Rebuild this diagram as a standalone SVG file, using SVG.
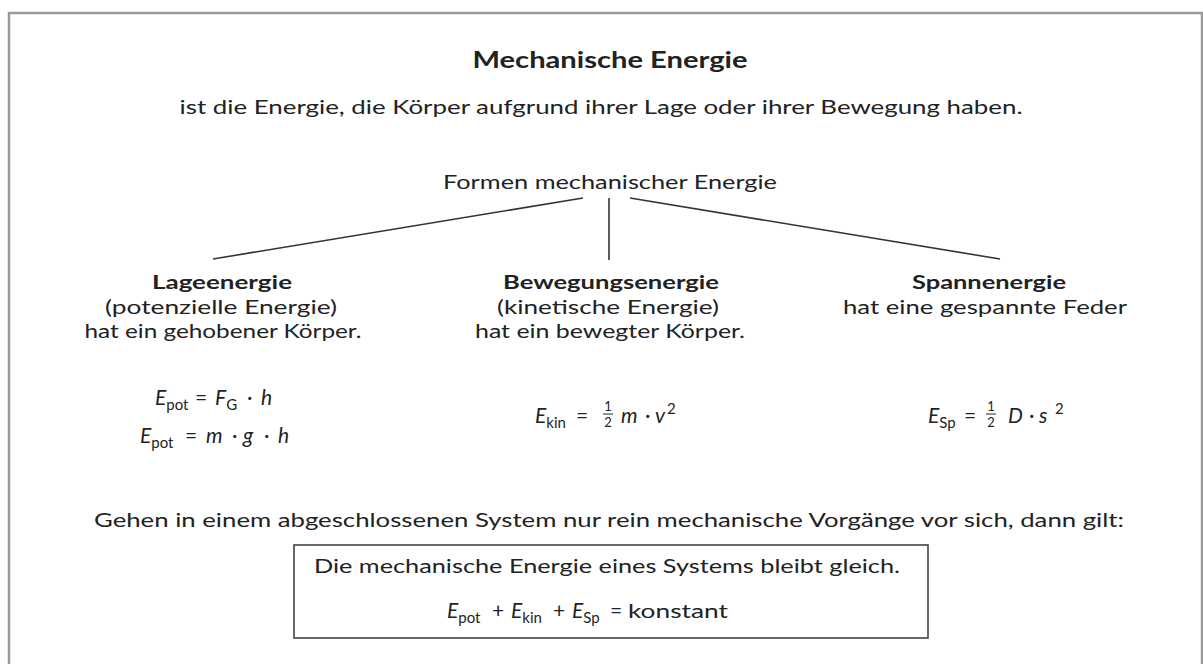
<svg xmlns="http://www.w3.org/2000/svg" width="1203" height="664" viewBox="0 0 1203 664">
<style>
text{font-family:Lato,"Open Sans","Liberation Sans",sans-serif;fill:#222;}
.t{font-size:19.5px;text-anchor:middle;}
.h{font-size:23px;font-weight:bold;text-anchor:middle;}
.b{font-weight:bold;}
.f{font-size:21px;}
.i{font-style:italic;}
.s{font-size:15px;}
.k{font-size:19.5px;}
.fr{font-size:13px;text-anchor:middle;}
.ln{stroke:#333;stroke-width:1.6;fill:none;}
.bar{stroke:#222;stroke-width:1;}
</style>
<rect x="0" y="0" width="1203" height="664" fill="#fff"/>
<rect id="frame" x="9" y="13" width="1193" height="660" fill="none" stroke="#9a9a9a" stroke-width="2.5"/>
<g id="title"><text class="h" x="610" y="68" textLength="275" lengthAdjust="spacingAndGlyphs">Mechanische Energie</text></g>
<g id="subtitle"><text class="t" x="601" y="114" textLength="843" lengthAdjust="spacingAndGlyphs">ist die Energie, die Körper aufgrund ihrer Lage oder ihrer Bewegung haben.</text></g>
<g id="root"><text class="t" x="610" y="189" textLength="334" lengthAdjust="spacingAndGlyphs">Formen mechanischer Energie</text></g>
<g id="connectors">
<line class="ln" x1="583" y1="198" x2="213" y2="259"/>
<line class="ln" x1="609" y1="198" x2="609" y2="260"/>
<line class="ln" x1="630" y1="198" x2="1000" y2="259"/>
</g>
<g id="lage">
<text class="t b" x="222" y="289" textLength="140" lengthAdjust="spacingAndGlyphs">Lageenergie</text>
<text class="t" x="221" y="314" textLength="232" lengthAdjust="spacingAndGlyphs">(potenzielle Energie)</text>
<text class="t" x="223" y="338" textLength="277" lengthAdjust="spacingAndGlyphs">hat ein gehobener Körper.</text>
<text class="f"><tspan class="i" x="155" y="405">E</tspan><tspan class="s" dy="5">pot</tspan><tspan x="195" y="405">=</tspan><tspan class="i" x="215" y="405">F</tspan><tspan class="s" dy="5">G</tspan><tspan x="247" y="405">·</tspan><tspan class="i" x="261" y="405">h</tspan></text>
<text class="f"><tspan class="i" x="140" y="443">E</tspan><tspan class="s" dy="5">pot</tspan><tspan x="185" y="443">=</tspan><tspan class="i" x="206" y="443">m</tspan><tspan x="232" y="443">·</tspan><tspan class="i" x="243" y="443">g</tspan><tspan x="264" y="443">·</tspan><tspan class="i" x="278" y="443">h</tspan></text>
</g>
<g id="bewegung">
<text class="t b" x="611" y="289" textLength="216" lengthAdjust="spacingAndGlyphs">Bewegungsenergie</text>
<text class="t" x="608" y="314" textLength="222" lengthAdjust="spacingAndGlyphs">(kinetische Energie)</text>
<text class="t" x="610" y="338" textLength="270" lengthAdjust="spacingAndGlyphs">hat ein bewegter Körper.</text>
<text class="f"><tspan class="i" x="535" y="423">E</tspan><tspan class="s" dy="5">kin</tspan><tspan x="576" y="423">=</tspan><tspan class="i" x="621" y="423">m</tspan><tspan x="645" y="423">·</tspan><tspan class="i" x="655" y="423">v</tspan><tspan class="s" x="667" y="414">2</tspan></text>
<text class="fr" x="608" y="411">1</text>
<line class="bar" x1="603" y1="414" x2="613" y2="414"/>
<text class="fr" x="608" y="427">2</text>
</g>
<g id="spann">
<text class="t b" x="989" y="289" textLength="154" lengthAdjust="spacingAndGlyphs">Spannenergie</text>
<text class="t" x="985" y="314" textLength="284" lengthAdjust="spacingAndGlyphs">hat eine gespannte Feder</text>
<text class="f"><tspan class="i" x="928" y="423">E</tspan><tspan class="s" dy="5">Sp</tspan><tspan x="964" y="423">=</tspan><tspan class="i" x="1008" y="423">D</tspan><tspan x="1029" y="423">·</tspan><tspan class="i" x="1039" y="423">s</tspan><tspan class="s" x="1055" y="414">2</tspan></text>
<text class="fr" x="991" y="411">1</text>
<line class="bar" x1="986" y1="414" x2="996" y2="414"/>
<text class="fr" x="991" y="427">2</text>
</g>
<g id="bedingung"><text class="t" x="609" y="527" textLength="1030" lengthAdjust="spacingAndGlyphs">Gehen in einem abgeschlossenen System nur rein mechanische Vorgänge vor sich, dann gilt:</text></g>
<g id="erhaltung">
<rect x="294" y="545" width="634" height="93" fill="#fff" stroke="#444" stroke-width="1.6"/>
<text class="t" x="607" y="573" textLength="586" lengthAdjust="spacingAndGlyphs">Die mechanische Energie eines Systems bleibt gleich.</text>
<text class="f"><tspan class="i" x="447" y="618">E</tspan><tspan class="s" dy="5">pot</tspan><tspan x="492" y="618">+</tspan><tspan class="i" x="511" y="618">E</tspan><tspan class="s" dy="5">kin</tspan><tspan x="553" y="618">+</tspan><tspan class="i" x="572" y="618">E</tspan><tspan class="s" dy="5">Sp</tspan><tspan x="610" y="618">=</tspan></text>
<text class="k" x="628" y="618" textLength="100" lengthAdjust="spacingAndGlyphs">konstant</text>
</g>
</svg>
